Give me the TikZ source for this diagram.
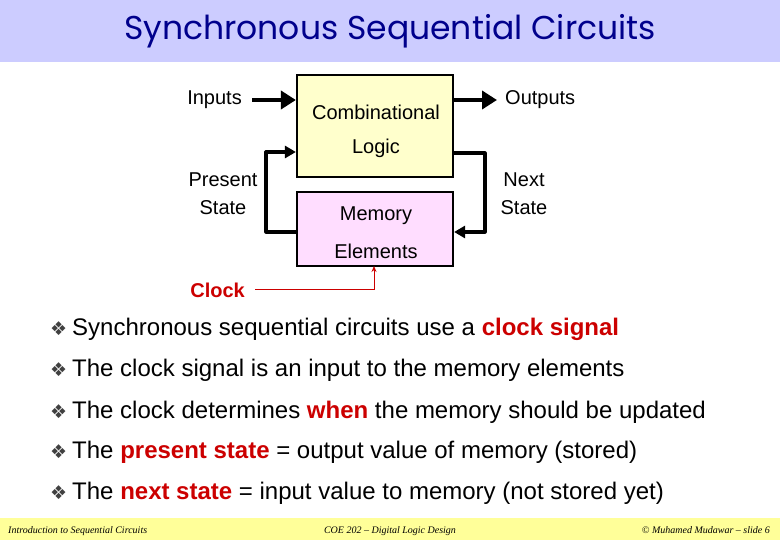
\documentclass[tikz,border=0pt]{standalone}
\usepackage{fontspec}
\setmainfont{Liberation Sans}
\newfontfamily\titlefont{Poppins}
\newfontfamily\symfont{DejaVu Sans}
\newfontfamily\footfont{Liberation Serif}
\usetikzlibrary{arrows.meta}
\definecolor{titlebg}{RGB}{204,204,255}
\definecolor{titlefg}{RGB}{0,0,140}
\definecolor{footbg}{RGB}{255,255,153}
\definecolor{combfill}{RGB}{255,255,204}
\definecolor{memfill}{RGB}{255,221,255}
\definecolor{hl}{RGB}{204,0,0}
\tikzset{
  blk/.style={draw=black, line width=2.2pt, minimum width=156pt},
  lbl/.style={font=\fontsize{20}{22}\selectfont, inner sep=0pt, align=center},
  bus/.style={line width=4pt, -{Triangle[length=15pt,width=18pt]}},
  wire/.style={line width=3.2pt, line join=round, -{Triangle[length=11pt,width=12pt]}},
  clk/.style={draw=hl, line width=1pt, -{Stealth[length=6pt,width=5pt]}},
  bul/.style={anchor=base west, inner sep=0pt, font=\fontsize{24}{26}\selectfont},
  foot/.style={font=\footfont\itshape\fontsize{10}{12}\selectfont, inner sep=0pt, anchor=base}
}
\newcommand{\hlt}[1]{\textcolor{hl}{\textbf{#1}}}
\newcommand{\bmark}{{\symfont\fontsize{19}{20}\selectfont\textcolor{black!75}{❖}}\hspace{5pt}}
\begin{document}
\begin{tikzpicture}[x=1pt,y=-1pt]
\useasboundingbox (0,0) rectangle (780,540);
\fill[white] (0,0) rectangle (780,540);
\fill[titlebg] (0,0) rectangle (780,62);
\node[font=\titlefont\fontsize{33}{36}\selectfont, text=titlefg] (title) at (390,31) {Synchronous Sequential Circuits};
\fill[footbg] (0,518) rectangle (780,540);

% blocks
\node[blk, fill=combfill, minimum height=102pt] (comb) at (375,126) {};
\node[blk, fill=memfill, minimum height=74pt] (mem) at (375,229) {};
\node[lbl] (combt1) at (376,112) {Combinational};
\node[lbl] (combt2) at (376,148) {Logic};
\node[lbl] (memt1) at (376,216) {Memory};
\node[lbl] (memt2) at (376,251) {Elements};

% labels
\node[lbl, anchor=east] (inputs) at (242,100) {Inputs};
\node[lbl, anchor=west] (outputs) at (505,100) {Outputs};
\node[lbl] (ps1) at (223,180) {Present};
\node[lbl] (ps2) at (223,208) {State};
\node[lbl] (ns1) at (524,180) {Next};
\node[lbl] (ns2) at (524,208) {State};
\node[lbl, anchor=east, font=\bfseries\fontsize{20}{22}\selectfont, text=hl] (clock) at (245,290) {Clock};

% coordinates
\coordinate (inS) at (252,100);
\coordinate (inE) at (comb.west |- inS);
\coordinate (outS) at (comb.east |- inS);
\coordinate (outE) at (497,100);
\coordinate (psS) at ([yshift=-3pt]mem.west);
\coordinate (psE) at (comb.west |- 0,152);
\coordinate (nsS) at (comb.east |- 0,153);
\coordinate (nsE) at ([yshift=-3pt]mem.east);
\coordinate (clkS) at (255,290);
\coordinate (clkE) at (374,266);

\draw[bus] (inS) -- (inE);
\draw[bus] (outS) -- (outE);
\draw[wire] (psS) -- (266,232) -- (266,152) -- (psE);
\draw[wire] (nsS) -- (485,153) -- (485,232) -- (nsE);
\draw[clk] (clkS) -- (374,290) -- (clkE);

% bullets
\node[bul] (b1) at (50,336) {\bmark Synchronous sequential circuits use a \hlt{clock signal}};
\node[bul] (b2) at (50,377) {\bmark The clock signal is an input to the memory elements};
\node[bul] (b3) at (50,418) {\bmark The clock determines \hlt{when} the memory should be updated};
\node[bul] (b4) at (50,458) {\bmark The \hlt{present state} = output value of memory (stored)};
\node[bul] (b5) at (50,499) {\bmark The \hlt{next state} = input value to memory (not stored yet)};

% footer
\node[foot, anchor=base west] (f1) at (8,533) {Introduction to Sequential Circuits};
\node[foot] (f2) at (390,533) {COE 202 – Digital Logic Design};
\node[foot, anchor=base east] (f3) at (770,533) {© Muhamed Mudawar – slide 6};
\end{tikzpicture}
\end{document}
